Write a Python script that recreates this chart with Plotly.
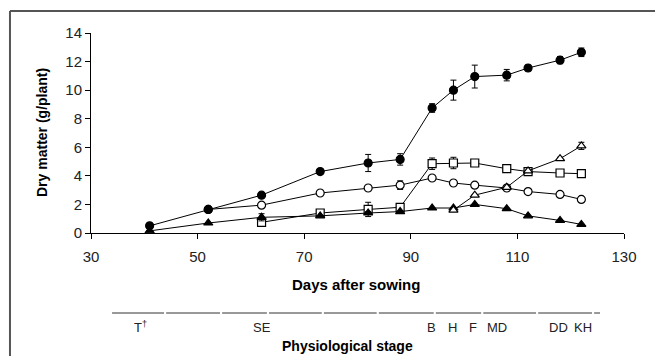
import plotly.graph_objects as go

# ---- data ----
days = [41, 52, 62, 73, 82, 88, 94, 98, 102, 108, 112, 118, 122]
total_dm = [0.5, 1.65, 2.65, 4.3, 4.9, 5.15, 8.75, 10.0, 10.95, 11.05, 11.55, 12.1, 12.65]
total_err = [0, 0, 0, 0, 0.6, 0.4, 0.3, 0.7, 0.8, 0.4, 0.2, 0.25, 0.3]

oc_days = [52, 62, 73, 82, 88, 94, 98, 102, 108, 112, 118, 122]
oc_dm = [1.65, 1.95, 2.8, 3.15, 3.35, 3.85, 3.5, 3.35, 3.15, 2.9, 2.7, 2.35]
oc_err = [0, 0, 0, 0, 0.3, 0, 0, 0, 0, 0, 0, 0]

sq_days = [62, 73, 82, 88, 94, 98, 102, 108, 112, 118, 122]
sq_dm = [0.75, 1.4, 1.65, 1.8, 4.85, 4.9, 4.9, 4.5, 4.3, 4.2, 4.15]
sq_err = [0, 0, 0.5, 0, 0.4, 0.4, 0, 0, 0, 0, 0]

ft_dm = [0.15, 0.7, 1.1, 1.2, 1.4, 1.5, 1.75, 1.75, 2.0, 1.7, 1.2, 0.88, 0.6]
ft_err = [0, 0, 0.25, 0, 0.1, 0, 0, 0, 0, 0, 0, 0, 0]

ot_days = [98, 102, 108, 112, 118, 122]
ot_dm = [1.6, 2.65, 3.2, 4.35, 5.2, 6.1]
ot_err = [0, 0, 0, 0, 0.1, 0.25]

stage_breaks = [33.75, 43.9, 54.4, 63.2, 73.5, 83.8, 94.5, 103.4, 113.7, 124.2, 125.7]
stage_labels = ["T<sup>†</sup>", "SE", "B", "H", "F", "MD", "DD", "KH"]
stage_pos = [39.2, 62.0, 93.8, 97.9, 101.7, 106.2, 117.8, 122.4]

x_ticks = [30, 50, 70, 90, 110, 130]
y_ticks = [0, 2, 4, 6, 8, 10, 12, 14]

FONT = "Liberation Sans, Arial, sans-serif"

fig = go.Figure()

def add(x, y, err, symbol, fill):
    fig.add_trace(go.Scatter(
        x=x, y=y, mode="lines+markers",
        line=dict(color="black", width=1),
        marker=dict(symbol=symbol, size=8,
                    color=fill, line=dict(color="black", width=1.2)),
        error_y=dict(type="data", array=err, visible=True, color="black",
                     thickness=1, width=3),
        showlegend=False, hoverinfo="x+y"))

add(sq_days, sq_dm, sq_err, "square", "white")
add(oc_days, oc_dm, oc_err, "circle", "white")
add(days, ft_dm, ft_err, "triangle-up", "black")
add(ot_days, ot_dm, ot_err, "triangle-up", "white")
add(days, total_dm, total_err, "circle", "black")

shapes = []
# outer frame (left and top edges visible)
shapes.append(dict(type="line", xref="paper", yref="paper", x0=-0.152, x1=1.2,
                   y0=1.11, y1=1.11, line=dict(color="#555", width=2)))
shapes.append(dict(type="line", xref="paper", yref="paper", x0=-0.152, x1=-0.152,
                   y0=1.11, y1=-0.7, line=dict(color="#555", width=2)))
# stage bar segments
for a, b in zip(stage_breaks[:-1], stage_breaks[1:]):
    shapes.append(dict(type="line", xref="x", yref="paper", x0=a + 0.2, x1=b - 0.2,
                       y0=-0.4, y1=-0.4, line=dict(color="#333", width=1)))

annotations = []
for lab, pos in zip(stage_labels, stage_pos):
    annotations.append(dict(x=pos, y=-0.47, xref="x", yref="paper", text=lab,
                            showarrow=False, xanchor="center", yanchor="middle",
                            font=dict(family=FONT, size=13, color="#222")))
annotations.append(dict(x=(356 - 91) / 533, y=-0.255, xref="paper", yref="paper",
                        text="<b>Days after sowing</b>", showarrow=False,
                        xanchor="center", yanchor="middle",
                        font=dict(family=FONT, size=15, color="black")))
annotations.append(dict(x=(347 - 91) / 533, y=-0.565, xref="paper", yref="paper",
                        text="<b>Physiological stage</b>", showarrow=False,
                        xanchor="center", yanchor="middle",
                        font=dict(family=FONT, size=14, color="black")))
annotations.append(dict(x=(42 - 91) / 533, y=0.5, xref="paper", yref="paper",
                        text="<b>Dry matter (g/plant)</b>", showarrow=False,
                        textangle=-90, xanchor="center", yanchor="middle",
                        font=dict(family=FONT, size=14, color="black")))

fig.update_layout(
    width=655, height=356,
    margin=dict(l=91, r=31, t=33, b=123),
    paper_bgcolor="white", plot_bgcolor="white",
    font=dict(family=FONT, size=15, color="#222"),
    shapes=shapes, annotations=annotations,
    xaxis=dict(range=[30, 130], tickvals=x_ticks, showgrid=False, zeroline=False,
               showline=True, linecolor="black", linewidth=1,
               ticks="outside", ticklen=5, tickcolor="black",
               ticklabelstandoff=5, tickfont=dict(size=15)),
    yaxis=dict(range=[0, 14], tickvals=y_ticks, showgrid=False, zeroline=False,
               showline=True, linecolor="black", linewidth=1,
               ticks="outside", ticklen=5, tickcolor="black",
               tickfont=dict(size=15)),
)

fig.write_html(
    "out.html",
    config={"displayModeBar": False},
    post_script=("document.body.style.margin='0px';"
                 "document.body.style.overflow='hidden';"
                 "document.documentElement.style.overflow='hidden';"),
)
